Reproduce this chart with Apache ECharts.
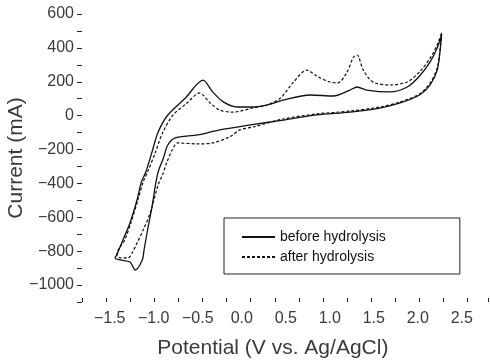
<!DOCTYPE html>
<html>
<head>
<meta charset="UTF-8">
<title>Cyclic voltammogram</title>
<script src="https://cdn.jsdelivr.net/npm/echarts@6/dist/echarts.min.js"></script>
<style>
  html, body { margin: 0; padding: 0; background: #fff; }
  #main { width: 490px; height: 361px; }
</style>
</head>
<body>
<div id="main"></div>
<script type="text/javascript">
    // [potential (V), current (mA)], one closed loop per curve
    var beforeHydrolysis = [
        [2.27, 476], [2.25, 370], [2.22, 269], [2.14, 181], [2.02, 122], [1.80, 75],
        [1.57, 45], [1.23, 21], [0.85, 4], [0.47, -26], [0.10, -55], [-0.25, -84],
        [-0.50, -114], [-0.76, -132], [-0.84, -173], [-0.89, -250], [-0.95, -333],
        [-0.98, -409], [-1.02, -539], [-1.07, -675], [-1.11, -793], [-1.13, -852],
        [-1.21, -911], [-1.27, -864], [-1.38, -852], [-1.44, -840], [-1.42, -823],
        [-1.35, -734], [-1.27, -634], [-1.19, -498], [-1.14, -392], [-1.09, -333],
        [-1.02, -215], [-0.95, -97], [-0.84, 4], [-0.64, 104], [-0.44, 210],
        [-0.33, 140], [-0.21, 81], [-0.05, 51], [0.13, 51], [0.29, 63], [0.47, 92],
        [0.78, 122], [1.04, 116], [1.23, 151], [1.31, 169], [1.42, 151], [1.68, 140],
        [1.88, 169], [2.02, 234], [2.14, 317], [2.22, 399], [2.27, 476]
    ];
    var afterHydrolysis = [
        [2.27, 488], [2.25, 376], [2.22, 281], [2.14, 193], [2.02, 128], [1.80, 81],
        [1.57, 51], [1.23, 27], [0.85, 10], [0.47, -20], [0.13, -67], [-0.02, -84],
        [-0.14, -126], [-0.33, -161], [-0.50, -167], [-0.73, -161], [-0.79, -203],
        [-0.85, -274], [-0.90, -350], [-0.95, -409], [-1.04, -575], [-1.12, -675],
        [-1.19, -752], [-1.24, -805], [-1.29, -840], [-1.38, -840], [-1.42, -817],
        [-1.33, -734], [-1.26, -634], [-1.18, -498], [-1.12, -392], [-1.07, -333],
        [-0.98, -215], [-0.90, -102], [-0.78, 4], [-0.62, 75], [-0.48, 134],
        [-0.36, 75], [-0.25, 33], [-0.10, 21], [0.13, 45], [0.29, 63], [0.44, 104],
        [0.58, 193], [0.74, 269], [0.85, 234], [1.00, 199], [1.09, 193], [1.19, 252],
        [1.27, 346], [1.31, 358], [1.38, 269], [1.49, 199], [1.68, 181], [1.88, 199],
        [2.02, 258], [2.14, 340], [2.22, 417], [2.27, 488]
    ];
    var seriesNames = ['before hydrolysis', 'after hydrolysis'];
    var xShownLabels = [-1.5, -1.0, -0.5, 0.0, 0.5, 1.0, 1.5, 2.0, 2.5];
    var yShownLabels = [-1000, -800, -600, -400, -200, 0, 200, 400, 600];

    var txt = '#3a3a3a';
    var font = 'Liberation Sans, Arial, sans-serif';

    function minus(s) { return s.replace('-', '\u2212'); }

    var myChart = echarts.init(document.getElementById('main'));
    myChart.setOption({
        animation: false,
        backgroundColor: '#fff',
        grid: [
            // frame with the y scale and the bottom tick marks
            { left: 82, right: 2, top: 14, bottom: 59, outerBoundsMode: 'none' },
            // data area; the printed potential labels sit a bit off the frame
            { left: 65.7, right: 0, top: 14, bottom: 59, outerBoundsMode: 'none' }
        ],
        legend: {
            data: seriesNames,
            orient: 'vertical',
            left: 224,
            top: 218,
            itemWidth: 33,
            itemHeight: 14,
            itemGap: 6,
            padding: [12, 74, 10, 17],
            borderColor: '#222',
            borderWidth: 1,
            itemStyle: { opacity: 0 },
            textStyle: { fontFamily: font, fontSize: 14, color: '#111' }
        },
        xAxis: [{
            gridIndex: 0,
            type: 'value',
            min: 0, max: 16.85, interval: 1,
            axisLine: { show: false, onZero: false },
            axisLabel: { show: false },
            splitLine: { show: false },
            axisTick: { show: true, inside: true, length: 4, lineStyle: { color: '#222', width: 1 } }
        }, {
            gridIndex: 1,
            type: 'value',
            min: -2, max: 2.82, interval: 0.5,
            name: 'Potential (V vs. Ag/AgCl)',
            nameLocation: 'middle',
            nameGap: 36,
            nameMoveOverlap: false,
            nameTextStyle: { fontFamily: font, fontSize: 21, color: txt, padding: [0, 10, 0, 0] },
            axisLine: { show: false, onZero: false },
            axisTick: { show: false },
            splitLine: { show: false },
            axisLabel: {
                margin: 9,
                fontFamily: font, fontSize: 16, color: txt,
                formatter: function (v) {
                    var r = Math.round(v * 10) / 10;
                    return xShownLabels.indexOf(r) >= 0 ? minus(r.toFixed(1)) : '';
                }
            }
        }],
        yAxis: [{
            gridIndex: 0,
            type: 'value',
            min: -1100, max: 600, interval: 100,
            name: 'Current (mA)',
            nameLocation: 'middle',
            nameGap: 55,
            nameMoveOverlap: false,
            nameTextStyle: { fontFamily: font, fontSize: 21, color: txt },
            axisLine: { show: false, onZero: false },
            axisTick: { show: true, length: 5, lineStyle: { color: '#222', width: 1 } },
            splitLine: { show: false },
            axisLabel: {
                margin: 8,
                fontFamily: font, fontSize: 16, color: txt,
                formatter: function (v) {
                    return yShownLabels.indexOf(v) >= 0 ? minus(String(v)) : '';
                }
            }
        }, {
            gridIndex: 1,
            type: 'value',
            min: -1100, max: 600,
            show: false
        }],
        series: [{
            name: seriesNames[0],
            type: 'line',
            xAxisIndex: 1,
            yAxisIndex: 1,
            data: beforeHydrolysis,
            symbol: 'none',
            smooth: 0.3,
            color: '#111',
            lineStyle: { color: '#111', width: 1.3, type: 'solid' }
        }, {
            name: seriesNames[1],
            type: 'line',
            xAxisIndex: 1,
            yAxisIndex: 1,
            data: afterHydrolysis,
            symbol: 'none',
            smooth: 0.3,
            color: '#111',
            lineStyle: { color: '#111', width: 1.2, type: [3, 2] }
        }]
    });
</script>
</body>
</html>
